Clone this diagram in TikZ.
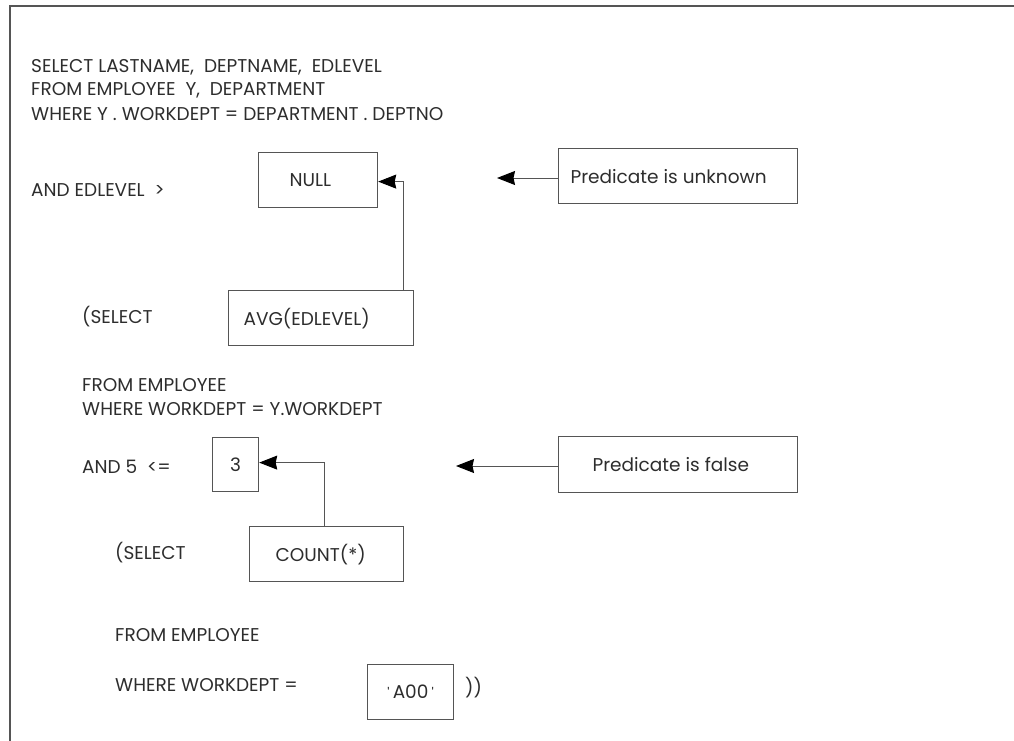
\documentclass[tikz,border=0pt]{standalone}
\usepackage{fontspec}
\setmainfont{Poppins}
\usetikzlibrary{arrows.meta}
\definecolor{ink}{RGB}{45,45,45}
\definecolor{ln}{RGB}{85,85,85}
\newcommand{\padtxt}[3]{\makebox[#1][l]{\hspace*{#2}#3}}
\newcommand{\tick}{{\fontsize{14}{14}\selectfont\textquotesingle}}
\begin{document}
\begin{tikzpicture}[x=1pt,y=-1pt,
  txt/.style={anchor=west,inner sep=0pt,text=ink,font=\fontsize{18.5}{18.5}\selectfont},
  box/.style={draw=ln,line width=1.2pt,anchor=north west,inner sep=0pt,text=ink,font=\fontsize{18.5}{18.5}\selectfont},
  arr/.style={draw=ln,line width=1pt,-{Stealth[length=18pt,width=14pt,inset=1.5pt,fill=black,color=black]}}]
\useasboundingbox (0,0) rectangle (1014,741);
\draw[ln,line width=1.3pt] (10,741) -- (10,6) -- (1014,6);
% header
\node[txt] (l1) at (31,67) {SELECT LASTNAME,~~DEPTNAME,~~EDLEVEL};
\node[txt] (l2) at (31,90) {FROM EMPLOYEE~~Y,~~DEPARTMENT};
\node[txt] (l3) at (31,114) {WHERE Y . WORKDEPT = DEPARTMENT . DEPTNO};
\node[txt] (l4) at (31,190) {AND EDLEVEL~~>};
\node[box,minimum height=55pt] (null) at (258,152) {\padtxt{119pt}{31pt}{NULL}};
\node[box,minimum height=55pt] (pu) at (558,148) {\padtxt{239pt}{12pt}{Predicate is unknown}};
\coordinate (pue) at (497,178);
\draw[arr] (pu.west |- pue) -- (pue);
% subquery 1
\node[txt] (s1) at (82,317) {(SELECT};
\node[box,minimum height=55pt] (avg) at (228,290) {\padtxt{185pt}{15pt}{AVG(EDLEVEL)}};
\draw[arr] ([xshift=-11pt]avg.north east) |- ([yshift=-1.5pt]null.east);
\node[txt] (s2) at (82,385) {FROM EMPLOYEE};
\node[txt] (s3) at (82,409) {WHERE WORKDEPT = Y.WORKDEPT};
\node[txt] (s4) at (82,467) {AND 5~~<=};
\node[box,minimum height=54pt] (three) at (212,437) {\makebox[46pt][c]{3}};
\node[box,minimum height=56pt] (pf) at (558,436) {\padtxt{239pt}{34pt}{Predicate is false}};
\coordinate (pfe) at (456,466);
\draw[arr] (pf.west |- pfe) -- (pfe);
% subquery 2
\node[txt] (t1) at (115,553) {(SELECT};
\node[box,minimum height=55pt] (count) at (249,526) {\padtxt{154pt}{26pt}{COUNT(*)}};
\draw[arr] ([xshift=-80pt]count.north east) |- ([yshift=2pt]three.east);
\node[txt] (t2) at (115,635) {FROM EMPLOYEE};
\node[txt] (t3) at (115,685) {WHERE WORKDEPT =};
\node[box,minimum height=55pt] (a00) at (367,664) {\makebox[86pt][c]{\tick\,A00\,\tick}};
\node[txt] (t4) at (465,688) {))};
\end{tikzpicture}
\end{document}
